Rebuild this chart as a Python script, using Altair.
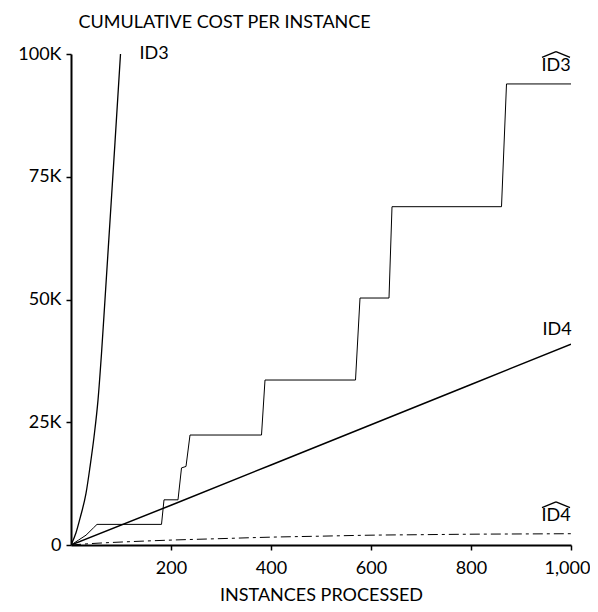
import altair as alt
import pandas as pd

# ---- data ----
id3_x = [0, 10, 19, 30, 38, 46, 54, 61, 68, 78, 88, 99]
id3_y = [0, 2500, 5800, 10500, 15900, 22000, 29500, 39000, 50000, 66000, 82000, 100000]

id3hat_x = [0, 15, 30, 45, 52, 181, 186, 214, 221, 230, 238, 381, 388, 569, 578, 636, 642, 861, 871, 1000]
id3hat_y = [0, 1000, 2000, 3500, 4200, 4200, 9200, 9200, 15700, 16000, 22400, 22400, 33600, 33600,
            50300, 50300, 68900, 68900, 93900, 93900]

id4_x = [0, 200, 400, 600, 800, 1000]
id4_y = [0, 8100, 16300, 24500, 32700, 40900]

id4hat_x = [0, 50, 100, 200, 300, 400, 500, 600, 700, 800, 900, 1000]
id4hat_y = [0, 350, 600, 1000, 1300, 1600, 1800, 2000, 2100, 2200, 2250, 2300]

label_text = ["ID3", "ID3", "ID4", "ID4"]
label_x = [166, 970, 972, 970]
label_y = [100000, 97600, 43800, 5900]
label_hat = [False, True, False, True]

y_ticks = [0, 25000, 50000, 75000, 100000]
x_ticks = [200, 400, 600, 800, 1000]

FONT = "Lato"

def series(name, xs, ys):
    return pd.DataFrame({"series": name, "x": xs, "y": ys, "order": range(len(xs))})

df = pd.concat([
    series("ID3", id3_x, id3_y),
    series("ID3hat", id3hat_x, id3hat_y),
    series("ID4", id4_x, id4_y),
    series("ID4hat", id4hat_x, id4hat_y),
])

labels = pd.DataFrame({"text": label_text, "x": label_x, "y": label_y, "hat": label_hat})

xscale = alt.Scale(domain=[0, 1000], nice=False)
yscale = alt.Scale(domain=[0, 100000], nice=False)

xaxis = alt.Axis(values=x_ticks, format=",d", title="INSTANCES PROCESSED",
                 titleX=250, titleY=59, titleBaseline="bottom", titleAlign="center",
                 labelPadding=9, tickSize=5, labelFlush=False,
                 labelOffset={"condition": {"test": "datum.value == 1000", "value": -4}, "value": 0})
yaxis = alt.Axis(values=y_ticks, labelExpr="datum.value == 0 ? '0' : (datum.value/1000) + 'K'",
                 title="CUMULATIVE COST PER INSTANCE", titleAngle=0, titleAlign="left",
                 titleBaseline="middle", titleX=7, titleY=-32, labelPadding=5, tickSize=5,
                 labelFlush=False)

def line(name, width, dash=None, interp="linear"):
    kw = dict(color="black", strokeWidth=width, clip=True, interpolate=interp)
    if dash:
        kw["strokeDash"] = dash
    return alt.Chart(df).transform_filter(alt.datum.series == name).mark_line(**kw).encode(
        x=alt.X("x:Q", scale=xscale, axis=xaxis),
        y=alt.Y("y:Q", scale=yscale, axis=yaxis),
        order="order:Q",
    )

text = alt.Chart(labels).mark_text(font=FONT, fontSize=18, color="black", baseline="middle").encode(
    x=alt.X("x:Q", scale=xscale), y=alt.Y("y:Q", scale=yscale), text="text:N")

# wide hat above the "estimated" labels, built from the label anchors
hat_base = alt.Chart(labels).transform_filter(alt.datum.hat).transform_calculate(
    xl="datum.x - 28", xr="datum.x + 28", yb="datum.y + 1700", ya="datum.y + 2900"
)
hat_left = hat_base.mark_rule(color="black", strokeWidth=1.3, clip=False).encode(
    x=alt.X("xl:Q", scale=xscale), x2="x:Q",
    y=alt.Y("yb:Q", scale=yscale), y2="ya:Q")
hat_right = hat_base.mark_rule(color="black", strokeWidth=1.3, clip=False).encode(
    x=alt.X("x:Q", scale=xscale), x2="xr:Q",
    y=alt.Y("ya:Q", scale=yscale), y2="yb:Q")

chart = alt.layer(
    line("ID3", 1.3, interp="monotone"),
    line("ID3hat", 1.0),
    line("ID4", 1.5),
    line("ID4hat", 1.0, [10, 4, 3, 4], interp="monotone"),
    text,
    hat_left,
    hat_right,
).properties(
    width=500, height=491,
    autosize=alt.AutoSizeParams(type="none"),
    padding={"left": 63, "top": 46, "right": 19, "bottom": 59},
).configure_view(stroke=None).configure_axis(
    grid=False, domainColor="black", domainWidth=2, tickColor="black", tickWidth=1.5,
    labelFont=FONT, labelFontSize=18, labelColor="black",
    titleFont=FONT, titleFontSize=18, titleFontWeight="normal", titleColor="black",
)

chart.save("out.html", embed_options={"renderer": "svg", "actions": False})
